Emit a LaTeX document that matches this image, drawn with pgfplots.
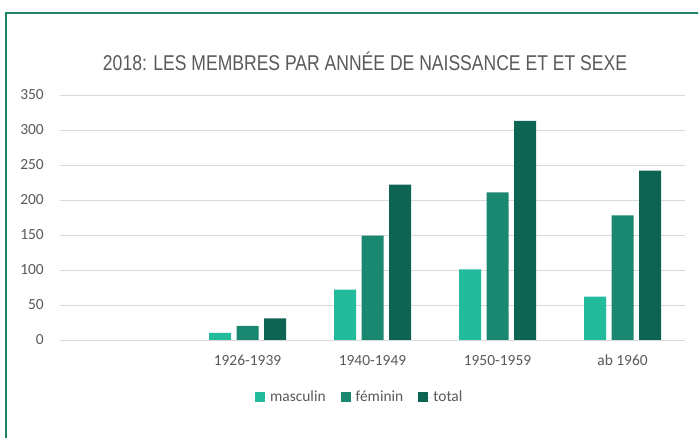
\documentclass[border=0pt]{standalone}
\usepackage{fontspec}
\setmainfont{Carlito}
\newfontfamily\titlefont{Liberation Sans}
\usepackage{graphicx}
\usepackage{pgfplots}
\pgfplotsset{compat=1.18}
\definecolor{cM}{RGB}{34,187,155}
\definecolor{cF}{RGB}{26,135,112}
\definecolor{cT}{RGB}{13,100,82}
\definecolor{txt}{RGB}{89,89,89}
\definecolor{gridc}{RGB}{217,217,217}
\definecolor{framec}{RGB}{30,130,105}
\begin{document}
\begin{tikzpicture}[x=1bp,y=1bp]
\useasboundingbox (0,0) rectangle (698,438);
\draw[framec, line width=1.6bp] (6,-5) -- (6,425) -- (705,425);
\node[text=txt, inner sep=0pt] at (365,377) {\resizebox{524bp}{\height}{\titlefont\fontsize{21.5}{24}\selectfont 2018: LES MEMBRES PAR ANNÉE DE NAISSANCE ET ET SEXE}};
\begin{axis}[
  at={(60bp,98bp)}, anchor=south west, scale only axis,
  width=625bp, height=245bp,
  xmin=-0.5, xmax=4.5, ymin=0, ymax=350,
  ytick={0,50,...,350},
  xtick={1,2,3,4},
  xticklabels={1926-1939,1940-1949,1950-1959,ab 1960},
  axis line style={draw=none},
  major tick length=0pt,
  ymajorgrids,
  grid style={gridc, line width=0.9bp},
  tick label style={font=\fontsize{15.5}{18}\selectfont, text=txt},
  /pgf/number format/assume math mode=true,
  yticklabel style={anchor=east, inner sep=0pt, xshift=-16bp},
  xticklabel style={anchor=north, inner sep=0pt, yshift=-15bp},
  legend style={at={(0.4796,-0.233)}, anchor=center, draw=none, fill=none,
    font=\fontsize{15.5}{18}\selectfont, text=txt, inner sep=0pt,
    /tikz/every even column/.append style={column sep=13bp}},
  legend columns=3,
  legend image code/.code={\fill[#1] (0bp,-5bp) rectangle (10bp,5bp); \path (0bp,0bp) -- (13bp,0bp);},
  clip=false,
]
\addplot[ybar, bar width=0.176, bar shift=-0.22, fill=cM, draw=none] coordinates {(1,10) (2,72) (3,101) (4,62)};
\addplot[ybar, bar width=0.176, bar shift=0, fill=cF, draw=none] coordinates {(1,20) (2,149) (3,211) (4,178)};
\addplot[ybar, bar width=0.176, bar shift=0.22, fill=cT, draw=none] coordinates {(1,31) (2,222) (3,313) (4,242)};
\legend{masculin,féminin,total}
\end{axis}
\end{tikzpicture}
\end{document}
